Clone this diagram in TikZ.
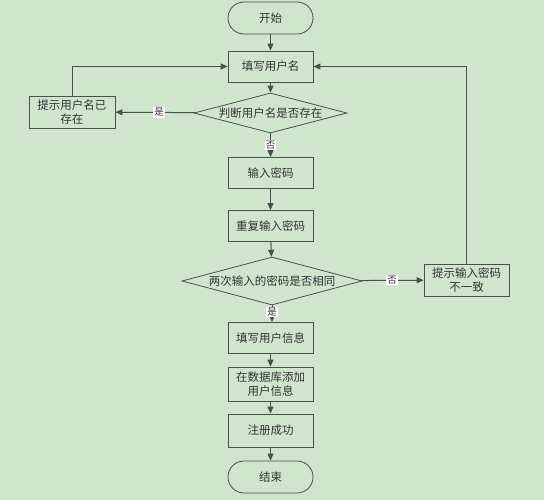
\documentclass[tikz,border=0pt]{standalone}
\usepackage{fontspec}
\setmainfont{Noto Sans CJK SC}
\usetikzlibrary{shapes.geometric,arrows.meta}
\definecolor{bgc}{HTML}{CFE6CC}
\definecolor{lnc}{HTML}{44544A}
\begin{document}
\begin{tikzpicture}[x=1pt,y=-1pt,
  every node/.style={font=\fontsize{11.5}{14}\selectfont, text=black!80},
  box/.style={draw=lnc, line width=0.8pt, fill=bgc, minimum width=85pt, minimum height=31pt, inner sep=1pt, align=center},
  term/.style={draw=lnc, line width=0.8pt, fill=bgc, rounded corners=16pt, minimum width=85pt, minimum height=32pt},
  dec/.style={draw=lnc, line width=0.8pt, fill=bgc, diamond, aspect=3.8, inner sep=0pt},
  arr/.style={draw=lnc, line width=1pt, -{Triangle[length=7pt,width=6pt]}},
  lab/.style={fill=white, inner sep=1pt, font=\fontsize{9.5}{10}\selectfont}]
\fill[bgc] (0,0) rectangle (544,500);
\useasboundingbox (0,0) rectangle (544,500);
\node[term] (start) at (270.5,18) {开始};
\node[box] (name) at (270.5,66.5) {填写用户名};
\node[dec, minimum width=153pt, minimum height=40pt] (chk) at (270.5,113) {判断用户名是否存在};
\node[box, minimum width=86pt, minimum height=32pt] (exist) at (72,112) {提示用户名已\\存在};
\node[box] (pw) at (270.5,173) {输入密码};
\node[box] (pw2) at (270.5,226) {重复输入密码};
\node[dec, minimum width=180pt, minimum height=48pt] (same) at (272,281) {两次输入的密码是否相同};
\node[box, minimum width=85pt, minimum height=32pt] (diff) at (466.5,280) {提示输入密码\\不一致};
\node[box] (info) at (270.5,338) {填写用户信息};
\node[box, minimum height=34pt] (db) at (270.5,384) {在数据库添加\\用户信息};
\node[box, minimum height=33pt] (ok) at (270.5,430.5) {注册成功};
\node[term] (end) at (270.5,477) {结束};
\coordinate (c1) at (72,66.5);
\coordinate (c2) at (466.5,66.5);
\draw[arr] (start) -- (name);
\draw[arr] (name) -- (chk);
\draw[arr] (chk) -- node[lab, pos=0.45]{是} (exist);
\draw[arr] (chk) -- node[lab, pos=0.5]{否} (pw);
\draw[draw=lnc, line width=1pt] (exist.north) -- (c1);
\draw[arr] (c1) -- (name.west);
\draw[arr] (pw) -- (pw2);
\draw[arr] (pw2) -- (same);
\draw[arr] (same) -- node[lab, pos=0.5]{否} (diff);
\draw[draw=lnc, line width=1pt] (diff.north) -- (c2);
\draw[arr] (c2) -- (name.east);
\draw[arr] (same.south) -- node[lab, pos=0.4]{是} (info.north -| same.south);
\draw[arr] (info) -- (db);
\draw[arr] (db) -- (ok);
\draw[arr] (ok) -- (end);
\end{tikzpicture}
\end{document}
